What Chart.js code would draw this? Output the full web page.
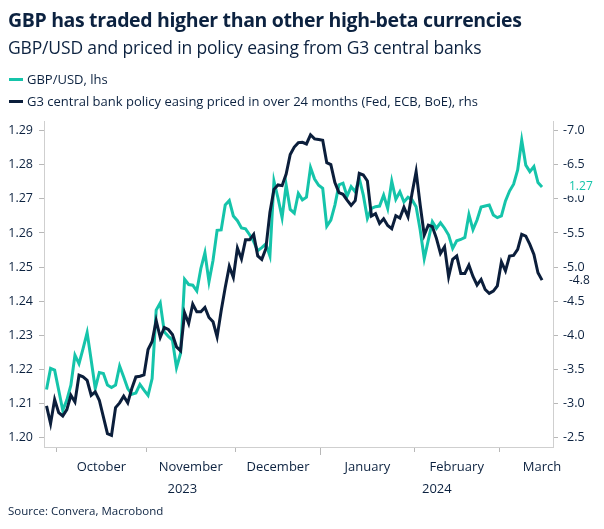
<!DOCTYPE html>
<html>
<head>
<meta charset="utf-8">
<script src="https://cdn.jsdelivr.net/npm/chart.js@4.4.1/dist/chart.umd.min.js"></script>
<style>
  html, body { margin: 0; padding: 0; background: #ffffff; }
  #wrap { position: relative; width: 604px; height: 529px; overflow: hidden; font-family: 'Open Sans', 'Noto Sans', sans-serif; color: #0c2240; }
  #chart { position: absolute; left: 0; top: 0; }
  .t { position: absolute; white-space: nowrap; }
  #title { left: 8px; top: 6px; font-size: 19.5px; font-weight: 700; line-height: 28px; letter-spacing: -0.35px; }
  #subtitle { left: 8px; top: 34px; font-size: 17.5px; font-weight: 400; line-height: 26px; letter-spacing: -0.15px; }
  .leg { left: 27px; font-size: 13px; line-height: 18px; }
  .sw { position: absolute; left: 9px; width: 14px; height: 3px; }
  #source { left: 8px; top: 503px; font-size: 11.5px; line-height: 16px; }
</style>
</head>
<body>
<div id="wrap">
  <canvas id="chart" width="604" height="529"></canvas>
  <div class="t" id="title">GBP has traded higher than other high-beta currencies</div>
  <div class="t" id="subtitle">GBP/USD and priced in policy easing from G3 central banks</div>
  <div class="sw" style="top:78px;background:#15c4aa"></div>
  <div class="t leg" style="top:70px">GBP/USD, lhs</div>
  <div class="sw" style="top:100px;background:#0b1e3b"></div>
  <div class="t leg" style="top:92px">G3 central bank policy easing priced in over 24 months (Fed, ECB, BoE), rhs</div>
  <div class="t" id="source">Source: Convera, Macrobond</div>
</div>
<script>
// ---- Data (one value per business day, 27 Sep 2023 .. 15 Mar 2024) ----
const startDate = '2023-09-27';
const gbpusd = [
  1.2141, 1.2203, 1.2198, 1.2139, 1.2080, 1.2110, 1.2154, 1.2242, 1.2217, 1.2261,
  1.2308, 1.2227, 1.2144, 1.2191, 1.2188, 1.2154, 1.2147, 1.2154, 1.2210, 1.2178,
  1.2144, 1.2127, 1.2131, 1.2156, 1.2139, 1.2124, 1.2173, 1.2374, 1.2395, 1.2310,
  1.2297, 1.2286, 1.2205, 1.2247, 1.2464, 1.2449, 1.2447, 1.2430, 1.2496, 1.2542,
  1.2457, 1.2520, 1.2608, 1.2609, 1.2682, 1.2695, 1.2650, 1.2636, 1.2615, 1.2612,
  1.2595, 1.2575, 1.2548, 1.2557, 1.2568, 1.2533, 1.2752, 1.2702, 1.2645, 1.2741,
  1.2669, 1.2658, 1.2716, 1.2697, 1.2705, 1.2792, 1.2758, 1.2740, 1.2731, 1.2620,
  1.2638, 1.2682, 1.2741, 1.2746, 1.2708, 1.2736, 1.2721, 1.2760, 1.2711, 1.2643,
  1.2672, 1.2677, 1.2679, 1.2711, 1.2672, 1.2752, 1.2699, 1.2721, 1.2691, 1.2705,
  1.2697, 1.2677, 1.2609, 1.2525, 1.2579, 1.2633, 1.2614, 1.2630, 1.2614, 1.2594,
  1.2555, 1.2577, 1.2581, 1.2587, 1.2654, 1.2610, 1.2638, 1.2676, 1.2679, 1.2682,
  1.2653, 1.2645, 1.2650, 1.2694, 1.2723, 1.2743, 1.2785, 1.2872, 1.2799, 1.2780,
  1.2795, 1.2748, 1.2735
];
const easing = [
  -2.965, -2.705, -3.058, -2.867, -2.818, -2.911, -3.121, -3.023, -3.415, -3.390,
  -3.341, -3.121, -3.170, -3.048, -2.803, -2.559, -2.534, -2.940, -3.009, -3.107,
  -3.010, -3.220, -3.390, -3.400, -3.420, -3.792, -3.910, -4.215, -3.968, -4.114,
  -4.085, -4.012, -3.831, -3.772, -4.330, -4.173, -4.457, -4.344, -4.344, -4.408,
  -4.261, -4.198, -3.977, -4.360, -4.700, -5.010, -4.850, -5.280, -5.120, -5.400,
  -5.400, -5.479, -5.165, -5.113, -5.270, -5.800, -6.140, -6.205, -6.194, -6.365,
  -6.650, -6.760, -6.825, -6.830, -6.805, -6.940, -6.880, -6.870, -6.859, -6.531,
  -6.502, -6.238, -6.091, -6.067, -5.983, -5.905, -5.974, -6.375, -6.350, -6.262,
  -5.749, -5.783, -5.641, -5.709, -5.611, -5.563, -5.753, -5.719, -5.876, -5.739,
  -6.081, -6.399, -5.910, -5.470, -5.616, -5.592, -5.421, -5.201, -5.298, -4.858,
  -5.113, -5.162, -4.907, -4.907, -5.029, -4.863, -4.738, -4.819, -4.672, -4.614,
  -4.648, -4.726, -5.078, -4.946, -5.162, -5.171, -5.259, -5.480, -5.455, -5.333,
  -5.186, -4.917, -4.809
];
const leftTicks = [1.20, 1.21, 1.22, 1.23, 1.24, 1.25, 1.26, 1.27, 1.28, 1.29];
const rightTicks = [-7.0, -6.5, -6.0, -5.5, -5.0, -4.5, -4.0, -3.5, -3.0, -2.5];
const monthNames = ['October', 'November', 'December', 'January', 'February', 'March'];
const yearLabels = ['2023', '2024'];

// ---- business-day calendar ----
const days = [];
{
  const d = new Date(startDate + 'T12:00:00Z');
  while (days.length < gbpusd.length) {
    const wd = d.getUTCDay();
    if (wd !== 0 && wd !== 6) days.push(new Date(d));
    d.setUTCDate(d.getUTCDate() + 1);
  }
}
function weekdaysInMonth(y, m) {
  let n = 0; const d = new Date(Date.UTC(y, m, 1, 12));
  while (d.getUTCMonth() === m) { const w = d.getUTCDay(); if (w !== 0 && w !== 6) n++; d.setUTCDate(d.getUTCDate() + 1); }
  return n;
}
const boundaries = [], monthCenters = [];
for (let i = 1; i < days.length; i++) {
  if (days[i].getUTCMonth() !== days[i - 1].getUTCMonth()) {
    const b = i - 0.5;
    boundaries.push({ v: b, yearStart: days[i].getUTCMonth() === 0 });
    monthCenters.push(b + weekdaysInMonth(days[i].getUTCFullYear(), days[i].getUTCMonth()) / 2);
  }
}
const X_MIN = -0.62, X_MAX = 124.7;
const yearBoundary = boundaries.find(b => b.yearStart).v;
const yearCenters = [(X_MIN + yearBoundary) / 2, (yearBoundary + X_MAX) / 2];

const TEAL = '#15c4aa', NAVY = '#0b1e3b', TXT = '#0c2240', AXIS = '#cfcfcf';
const FONT = "'Open Sans', 'Noto Sans', sans-serif";

const endLabels = {
  id: 'endLabels',
  afterDraw(chart) {
    const ctx = chart.ctx, ca = chart.chartArea;
    const items = [
      { scale: chart.scales.y, v: gbpusd[gbpusd.length - 1], txt: gbpusd[gbpusd.length - 1].toFixed(2), color: TEAL },
      { scale: chart.scales.y2, v: easing[easing.length - 1], txt: easing[easing.length - 1].toFixed(1), color: NAVY }
    ];
    ctx.save();
    ctx.font = '12px ' + FONT;
    ctx.textBaseline = 'middle';
    ctx.textAlign = 'left';
    for (const it of items) {
      const py = it.scale.getPixelForValue(it.v);
      ctx.fillStyle = '#ffffff';
      ctx.fillRect(ca.right + 10, py - 8.5, 40, 17);
      ctx.fillStyle = it.color;
      ctx.fillText(it.txt, ca.right + 16, py);
    }
    ctx.restore();
  }
};

new Chart(document.getElementById('chart'), {
  type: 'line',
  data: {
    datasets: [
      { label: 'GBP/USD, lhs', data: gbpusd.map((v, i) => ({ x: i, y: v })), yAxisID: 'y', xAxisID: 'x',
        borderColor: TEAL, borderWidth: 3, pointRadius: 0, tension: 0, order: 1 },
      { label: 'G3 easing, rhs', data: easing.map((v, i) => ({ x: i, y: v })), yAxisID: 'y2', xAxisID: 'x',
        borderColor: NAVY, borderWidth: 3, pointRadius: 0, tension: 0, order: 0 }
    ]
  },
  options: {
    responsive: false, animation: false, devicePixelRatio: 1,
    layout: { padding: { top: 121, left: 0, right: 0, bottom: 30 } },
    plugins: { legend: { display: false }, tooltip: { enabled: false }, title: { display: false } },
    scales: {
      x: {
        type: 'linear', position: 'bottom', min: X_MIN, max: X_MAX,
        afterBuildTicks: s => { s.ticks = boundaries.map(b => ({ value: b.v })); },
        afterFit: s => { s.height = 8; },
        ticks: { display: false },
        grid: { drawOnChartArea: false, drawTicks: true, tickLength: 8, tickColor: '#b8b8b8', tickWidth: 1,
          tickBorderDash: ctx => (boundaries[ctx.index] && boundaries[ctx.index].yearStart) ? [] : [4, 20] },
        border: { color: AXIS, width: 1 }
      },
      xm: {
        type: 'linear', position: 'bottom', min: X_MIN, max: X_MAX,
        afterBuildTicks: s => { s.ticks = monthCenters.map(v => ({ value: v })); },
        afterFit: s => { s.height = 22; },
        ticks: { callback: (v, i) => monthNames[i], color: TXT, font: { family: FONT, size: 13 }, padding: 4, maxRotation: 0, autoSkip: false },
        grid: { display: false, drawTicks: false },
        border: { display: false }
      },
      xy: {
        type: 'linear', position: 'bottom', min: X_MIN, max: X_MAX,
        afterBuildTicks: s => { s.ticks = yearCenters.map(v => ({ value: v })); },
        afterFit: s => { s.height = 22; },
        ticks: { callback: (v, i) => yearLabels[i], color: TXT, font: { family: FONT, size: 13 }, padding: 4, maxRotation: 0, autoSkip: false },
        grid: { display: false, drawTicks: false },
        border: { display: false }
      },
      y: {
        type: 'linear', position: 'left', min: 1.19725, max: 1.29284,
        afterBuildTicks: s => { s.ticks = leftTicks.map(v => ({ value: v })); },
        afterFit: s => { s.width = 44; },
        ticks: { callback: v => v.toFixed(2), color: TXT, font: { family: FONT, size: 12.5 }, padding: 6 },
        grid: { drawOnChartArea: false, tickLength: 5, tickColor: '#b8b8b8' },
        border: { color: AXIS, width: 1 }
      },
      y2: {
        type: 'linear', position: 'right', reverse: true, min: -7.1419, max: -2.3625,
        afterBuildTicks: s => { s.ticks = rightTicks.map(v => ({ value: v })); },
        afterFit: s => { s.width = 51; },
        ticks: { callback: v => v.toFixed(1), color: TXT, font: { family: FONT, size: 12.5 }, padding: 5 },
        grid: { drawOnChartArea: false, tickLength: 5, tickColor: '#b8b8b8' },
        border: { color: AXIS, width: 1 }
      }
    }
  },
  plugins: [endLabels]
});
</script>
</body>
</html>
